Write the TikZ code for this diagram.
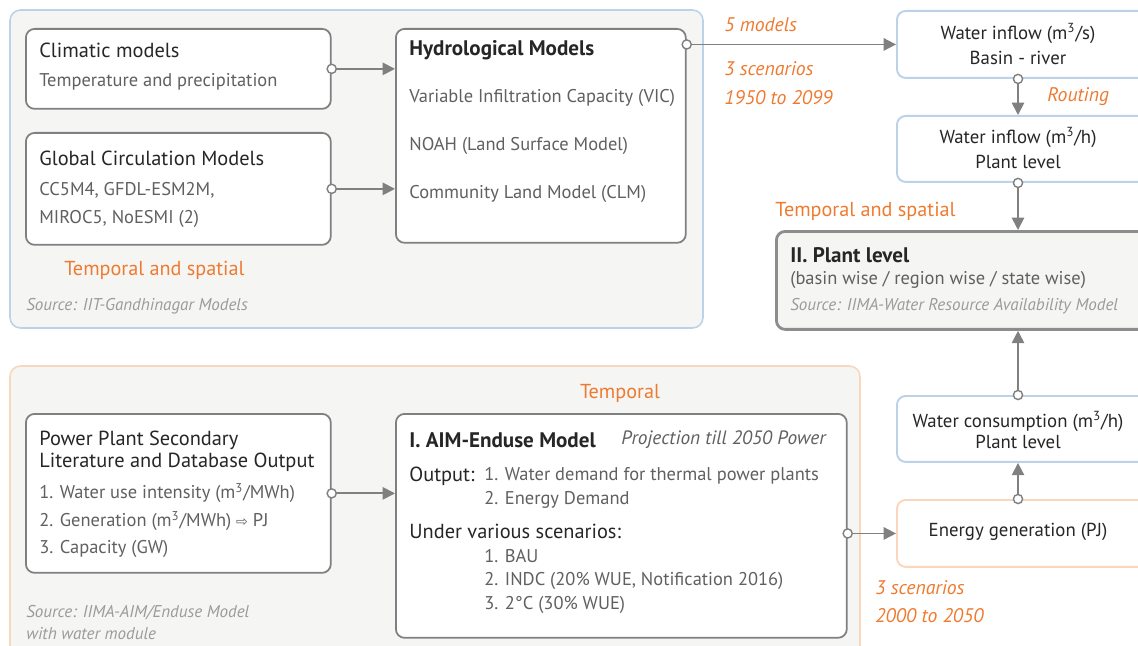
\documentclass[tikz,border=0pt]{standalone}
\usepackage{fontspec}
\setmainfont{PT Sans}
\newfontfamily\symfont{DejaVu Sans}
\usepackage{tikz}
\usetikzlibrary{arrows.meta}
\definecolor{panelGray}{HTML}{F5F5F3}
\definecolor{lineBlue}{HTML}{BCD2E8}
\definecolor{lineOrange}{HTML}{FAD6BD}
\definecolor{textOrange}{HTML}{EE7A30}
\definecolor{boxGray}{HTML}{808080}
\definecolor{bodyGray}{HTML}{606060}
\definecolor{srcGray}{HTML}{9B9B9B}
\definecolor{darkText}{HTML}{262626}

\begin{document}
\begin{tikzpicture}[x=0.02cm, y=-0.02cm, font=\fontsize{10.5}{12}\selectfont,
    panel/.style={rounded corners=6, line width=0.9pt, fill=panelGray},
    card/.style={draw=boxGray, line width=1pt, rounded corners=5, fill=white,
        anchor=north west, inner sep=0},
    flowbox/.style={card, draw=lineBlue, line width=1.1pt},
    title/.style={anchor=west, inner sep=0, text=darkText, font=\fontsize{11.6}{13}\selectfont},
    heading/.style={anchor=west, inner sep=0, text=darkText, font=\fontsize{12}{13}\selectfont\bfseries},
    body/.style={anchor=west, inner sep=0, text=bodyGray},
    note/.style={anchor=west, inner sep=0, text=textOrange, font=\fontsize{11.5}{13}\selectfont},
    flow/.style={anchor=west, inner sep=0, text=textOrange, font=\fontsize{11.2}{13}\selectfont\itshape},
    source/.style={anchor=west, inner sep=0, text=srcGray, font=\fontsize{9.7}{12.5}\selectfont\itshape},
    conn/.style={draw=boxGray, line width=1pt, shorten <=-3pt,
        {Circle[fill=white, length=6pt, width=6pt, line width=0.8pt]}-{Triangle[length=7pt, width=7pt]}}]
    \clip (0,0) rectangle (1138,645);

    % panels
    \draw[panel, draw=lineBlue]   (10,10)  rectangle (703,328);
    \draw[panel, draw=lineOrange] (10,366) rectangle (860,680);

    % climate side
    \node[card, minimum width=6.1cm, minimum height=1.6cm]  (clim)  at (25,28)  {};
    \node[card, minimum width=6.1cm, minimum height=2.24cm] (gcm)   at (25,132) {};
    \node[card, minimum width=5.8cm, minimum height=4.28cm] (hydro) at (395,28) {};
    \node[title] at (39,50)  {Climatic models};
    \node[body]  at (39,82)  {Temperature and precipitation};
    \node[title] at (39,158) {Global Circulation Models};
    \node[body]  at (39,190) {CC5M4, GFDL-ESM2M,};
    \node[body]  at (39,219) {MIROC5, NoESMI (2)};
    \node[heading] at (409,50) {Hydrological Models};
    \node[body]  at (409,98)  {Variable Infiltration Capacity (VIC)};
    \node[body]  at (409,146) {NOAH (Land Surface Model)};
    \node[body]  at (409,194) {Community Land Model (CLM)};
    \node[note]   at (64,270) {Temporal and spatial};
    \node[source] at (26,306) {Source: IIT-Gandhinagar Models};

    % water inflow chain
    \node[flowbox, minimum width=5cm, minimum height=1.34cm] (inriver) at (896,10)  {};
    \node[flowbox, minimum width=5cm, minimum height=1.32cm] (inplant) at (896,115) {};
    \node[card, fill=panelGray, line width=1.6pt, draw=boxGray!90,
        minimum width=7.42cm, minimum height=1.96cm] (plant) at (775,230) {};
    \node[align=center, inner sep=0, text=darkText, font=\fontsize{10.7}{14.7}\selectfont]
        at (1018,44) {Water inflow (m\textsuperscript{3}/s)\\Basin - river};
    \node[align=center, inner sep=0, text=darkText, font=\fontsize{10.7}{14.2}\selectfont]
        at (1018,148) {Water inflow (m\textsuperscript{3}/h)\\Plant level};
    \node[flow] at (724,25) {5 models};
    \node[flow] at (724,69) {3 scenarios};
    \node[flow] at (724,98) {1950 to 2099};
    \node[flow] at (1047,97) {Routing};
    \node[note] at (775,211) {Temporal and spatial};
    \node[heading] at (790,255) {II. Plant level};
    \node[body]   at (790,280) {(basin wise / region wise / state wise)};
    \node[source] at (790,306) {Source: IIMA-Water Resource Availability Model};

    % energy side
    \node[card, minimum width=6.1cm, minimum height=3.18cm] (plantdata) at (25,413)  {};
    \node[card, minimum width=9.02cm, minimum height=4.48cm] (aim)      at (395,413) {};
    \node[note, anchor=center] at (620,393) {Temporal};
    \node[title, align=left, font=\fontsize{11.6}{12.5}\selectfont] at (39,451)
        {Power Plant Secondary\\Literature and Database Output};
    \node[body] at (39,493) {1. Water use intensity (m\textsuperscript{3}/MWh)};
    \node[body] at (39,521) {2. Generation (m\textsuperscript{3}/MWh) {\symfont\footnotesize ⇨} PJ};
    \node[body] at (39,549) {3. Capacity (GW)};
    \node[source, align=left] at (26,623)
        {Source: IIMA-AIM/Enduse Model\\with water module};
    \node[heading] at (409,440) {I. AIM-Enduse Model};
    \node[body, font=\fontsize{11}{12}\selectfont\itshape] at (621,440) {Projection till 2050 Power};
    \node[title] at (409,476) {Output:};
    \node[body]  at (484,476) {1. Water demand for thermal power plants};
    \node[body]  at (484,500) {2. Energy Demand};
    \node[title] at (409,531) {Under various scenarios:};
    \node[body]  at (484,556) {1. BAU};
    \node[body]  at (484,581) {2. INDC (20\% WUE, Notification 2016)};
    \node[body]  at (484,605) {3. 2°C (30\% WUE)};

    \node[card, draw=lineOrange, line width=1.1pt, minimum width=5cm, minimum height=1.34cm]
        (energy) at (896,499) {};
    \node[flowbox, minimum width=5cm, minimum height=1.32cm] (consume) at (896,395) {};
    \node[inner sep=0, text=darkText, font=\fontsize{10.7}{12}\selectfont] at (1018,532) {Energy generation (PJ)};
    \node[align=center, inner sep=0, text=darkText, font=\fontsize{10.7}{12.5}\selectfont]
        at (1018,430) {Water consumption (m\textsuperscript{3}/h)\\Plant level};
    \node[flow] at (875,588) {3 scenarios};
    \node[flow] at (875,616) {2000 to 2050};

    % connectors
    \draw[conn] (clim.east) -- (hydro.west |- clim.east);
    \draw[conn] (gcm.east) -- (hydro.west |- gcm.east);
    \draw[conn] (hydro.east |- inriver.west) -- (inriver.west);
    \draw[conn] (inriver.south -| 1018,0) -- (inplant.north -| 1018,0);
    \draw[conn] (inplant.south -| 1018,0) -- (plant.north -| 1018,0);
    \draw[conn] (plantdata.east) -- (aim.west |- plantdata.east);
    \draw[conn] (aim.east |- energy.west) -- (energy.west);
    \draw[conn] (energy.north -| 1018,0) -- (consume.south -| 1018,0);
    \draw[conn] (consume.north -| 1018,0) -- (plant.south -| 1018,0);
\end{tikzpicture}
\end{document}
